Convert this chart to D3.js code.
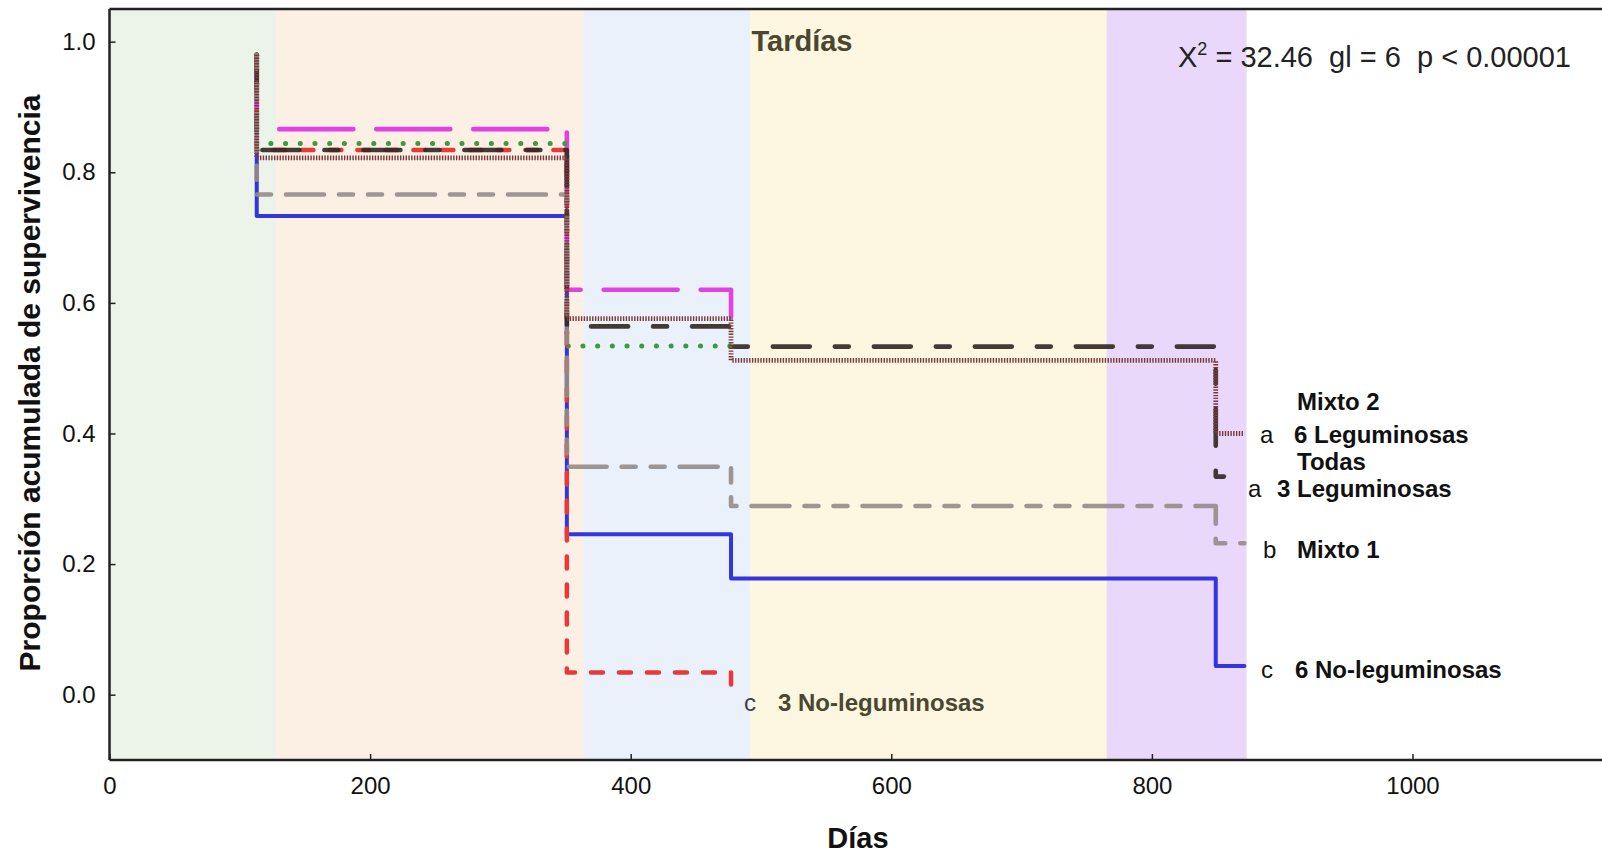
<!DOCTYPE html>
<html>
<head>
<meta charset="utf-8">
<script src="https://cdn.jsdelivr.net/npm/d3@7"></script>
<style>
  html, body { margin: 0; padding: 0; background: #fff; }
  svg { display: block; font-family: "Liberation Sans", Arial, sans-serif; }
</style>
</head>
<body>
<svg id="chart" width="1602" height="853"></svg>
<script>
// Kaplan–Meier style survival curves by planting group
const xTicks = [0, 200, 400, 600, 800, 1000];
const yTicks = [0.0, 0.2, 0.4, 0.6, 0.8, 1.0];

// Background season bands (day limits) and their fills
const bandEdges = [0, 127.8, 363.6, 492, 765.3, 872.7];
const bandColors = ["#ecf3e8", "#fcefe4", "#eaf1fa", "#fdf6e0", "#e9d8f9"];

// Each curve: days where survival changes, and survival after each day
const diasNoLeg6 = [113, 113, 351, 477, 849, 871];
const survNoLeg6 = [0.98, 0.733, 0.2455, 0.178, 0.044, 0.044];

const diasMixto1 = [113, 113, 351, 477, 849, 871];
const survMixto1 = [0.98, 0.766, 0.349, 0.289, 0.232, 0.232];

const diasMixto2 = [113, 113, 351, 477];
const survMixto2 = [0.98, 0.866, 0.620, 0.578];

const diasLeg3 = [113, 113, 351, 477];
const survLeg3 = [0.98, 0.844, 0.534, 0.534];

const diasNoLeg3 = [113, 113, 351, 477];
const survNoLeg3 = [0.98, 0.834, 0.034, 0.015];

const diasTodas = [113, 113, 351, 477, 849, 871];
const survTodas = [0.98, 0.834, 0.564, 0.533, 0.334, 0.334];

const diasLeg6 = [113, 113, 351, 477, 849, 871];
const survLeg6 = [0.98, 0.822, 0.576, 0.512, 0.400, 0.400];

const curves = [
  { dias: diasNoLeg6, surv: survNoLeg6, color: "#3535dc", width: 4, dash: null, cap: "round" },
  { dias: diasMixto2, surv: survMixto2, color: "#e043e0", width: 4.6, dash: "74,23", cap: "round" },
  { dias: diasLeg3, surv: survLeg3, color: "#3f9a3f", width: 5, dash: "0.1,14.6", cap: "round" },
  { dias: diasNoLeg3, surv: survNoLeg3, color: "#e83838", width: 4.5, dash: "12,16", cap: "round" },
  { dias: diasTodas, surv: survTodas, color: "#332a26", width: 4.6, dash: "37,25,14,25", cap: "round", opacity: 0.92 },
  { dias: diasMixto1, surv: survMixto1, color: "#958c88", width: 4.6, dash: "14,15,14,15,38,15", cap: "round", opacity: 0.9 },
  { dias: diasLeg6, surv: survLeg6, color: "#7b3838", width: 4.8, dash: "1.4,1.4", cap: "butt" }
];

const svg = d3.select("#chart");
const m = { left: 109.5, top: 9, bottom: 760 };

const x = d3.scaleLinear().domain([0, 1150]).range([m.left, m.left + 1150 * 1.303]);
const y = d3.scaleLinear().domain([-0.1, 1.05]).range([m.bottom, m.top]);

// season bands
svg.append("g").selectAll("rect")
  .data(bandColors)
  .join("rect")
  .attr("x", (d, i) => x(bandEdges[i]))
  .attr("width", (d, i) => x(bandEdges[i + 1]) - x(bandEdges[i]))
  .attr("y", m.top)
  .attr("height", m.bottom - m.top)
  .attr("fill", d => d);

// survival step curves
const line = d3.line()
  .x(d => x(d[0]))
  .y(d => y(d[1]))
  .curve(d3.curveStepAfter);

svg.append("g").selectAll("path")
  .data(curves)
  .join("path")
  .attr("d", c => line(c.dias.map((t, i) => [t, c.surv[i]])))
  .attr("fill", "none")
  .attr("stroke", c => c.color)
  .attr("stroke-width", c => c.width)
  .attr("stroke-dasharray", c => c.dash)
  .attr("stroke-linecap", c => c.cap)
  .attr("stroke-linejoin", "round")
  .attr("opacity", c => c.opacity || 1);

// frame
const frame = svg.append("g").attr("fill", "none").attr("stroke", "#222").attr("stroke-width", 2.5);
frame.append("line").attr("x1", m.left).attr("x2", 1610).attr("y1", m.top).attr("y2", m.top);

// axes
const yAxis = svg.append("g")
  .attr("transform", `translate(${m.left},0)`)
  .call(d3.axisLeft(y).tickValues(yTicks).tickFormat(d3.format(".1f")).tickSizeInner(-6).tickSizeOuter(0).tickPadding(14));
const xAxis = svg.append("g")
  .attr("transform", `translate(0,${m.bottom})`)
  .call(d3.axisBottom(x).tickValues(xTicks).tickFormat(d3.format("d")).tickSizeInner(-6).tickSizeOuter(0).tickPadding(17));

[yAxis, xAxis].forEach(a => {
  a.select(".domain").attr("stroke", "#222").attr("stroke-width", 2.5);
  a.selectAll(".tick line").attr("stroke", "#222").attr("stroke-width", 1.5);
  a.selectAll(".tick text").attr("font-size", 24).attr("fill", "#111")
    .attr("font-family", "'Liberation Sans', Arial, sans-serif");
});
yAxis.select(".domain").attr("d", `M0,${m.top}V${m.bottom}`);
xAxis.select(".domain").attr("d", `M${m.left},0H1610`);

// axis titles
svg.append("text")
  .attr("transform", `translate(39.5,383) rotate(-90)`)
  .attr("text-anchor", "middle")
  .attr("font-size", 30).attr("font-weight", "bold").attr("fill", "#111")
  .text("Proporción acumulada de supervivencia");

svg.append("text")
  .attr("x", 858).attr("y", 848)
  .attr("text-anchor", "middle")
  .attr("font-size", 29).attr("font-weight", "bold").attr("fill", "#111")
  .text("Días");

// season label
svg.append("text")
  .attr("x", 802).attr("y", 51)
  .attr("text-anchor", "middle")
  .attr("font-size", 29).attr("font-weight", "bold").attr("fill", "#4b4630")
  .text("Tardías");

// log-rank test result
const chi = svg.append("text")
  .attr("x", 1178).attr("y", 67)
  .attr("font-size", 29).attr("fill", "#222");
chi.append("tspan").text("X");
chi.append("tspan").attr("font-size", 18).attr("dy", -12).text("2");
chi.append("tspan").attr("dy", 12).text(" = 32.46  gl = 6  p < 0.00001").attr("xml:space", "preserve");

// group labels at curve ends
const labelSize = 24;
const labels = [
  { x: 1297, y: 410, t: "Mixto 2", bold: true },
  { x: 1260, y: 443, t: "a", bold: false },
  { x: 1294, y: 443, t: "6 Leguminosas", bold: true },
  { x: 1297, y: 470, t: "Todas", bold: true },
  { x: 1248, y: 497, t: "a", bold: false },
  { x: 1277, y: 497, t: "3 Leguminosas", bold: true },
  { x: 1263, y: 558, t: "b", bold: false },
  { x: 1297, y: 558, t: "Mixto 1", bold: true },
  { x: 1261, y: 678, t: "c", bold: false },
  { x: 1295, y: 678, t: "6 No-leguminosas", bold: true },
  { x: 744, y: 711, t: "c", bold: false, color: "#3b3f4a" },
  { x: 778, y: 711, t: "3 No-leguminosas", bold: true, color: "#4b4630" }
];
svg.append("g").selectAll("text")
  .data(labels)
  .join("text")
  .attr("x", d => d.x).attr("y", d => d.y)
  .attr("font-size", labelSize)
  .attr("font-weight", d => d.bold ? "bold" : "normal")
  .attr("fill", d => d.color || "#111")
  .text(d => d.t);
</script>
</body>
</html>
